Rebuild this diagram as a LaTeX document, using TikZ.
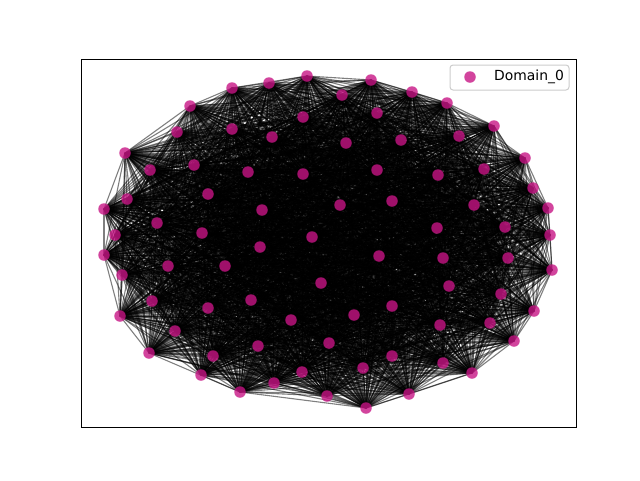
\documentclass[tikz,border=0pt]{standalone}
\usepackage{fontspec}
\setmainfont{DejaVu Sans}
\usetikzlibrary{backgrounds}
\definecolor{nodecol}{HTML}{C71585}
\begin{document}
\begin{tikzpicture}[x=1pt,y=-1pt,
  vert/.style={circle,fill=nodecol,fill opacity=0.8,draw=none,inner sep=0pt,minimum size=11.5pt},
  edge/.style={black,opacity=0.5,line width=1.1pt},
  legtext/.style={font=\fontsize{13.9}{16}\selectfont,anchor=west,inner sep=0pt}]
\useasboundingbox (0,0) rectangle (640,480);
\foreach \i/\x/\y in {1/307/76,2/371/80,3/269/83,4/232/88,5/412/92,6/342/95,7/447/103,8/190/106,9/377/113,10/303/117,
  11/232/129,12/177/132,13/459/136,14/272/137,15/494/126,16/346/143,17/401/140,18/125/153,19/194/165,20/525/158,
  21/150/170,22/484/169,23/248/172,24/303/174,25/377/170,26/438/175,27/533/188,28/208/194,29/127/199,30/104/209,
  31/392/201,32/340/205,33/474/205,34/548/208,35/262/210,36/157/223,37/505/227,38/115/235,39/202/233,40/437/228,
  41/550/235,42/312/237,43/260/247,44/104/255,45/379/256,46/443/258,47/508/258,48/168/266,49/225/266,50/552/270,
  51/122/275,52/321/283,53/449/286,54/152/301,55/251/300,56/208/308,57/392/306,58/501/294,59/534/311,60/120/316,
  61/354/315,62/291/320,63/440/325,64/490/323,65/175/331,66/329/343,67/514/341,68/258/346,69/149/353,70/213/356,
  71/392/356,72/443/363,73/363/368,74/302/372,75/472/373,76/201/375,77/274/383,78/240/392,79/327/396,80/409/394,
  81/366/408}
  \node[vert] (n\i) at (\x,\y) {};
\begin{pgfonlayer}{background}
\pgfmathsetseed{7}
\foreach \i in {1,...,80}{
  \pgfmathtruncatemacro\s{\i+1}
  \foreach \j in {\s,...,81}{
    \pgfmathsetmacro\r{rnd}
    \ifdim\r pt<0.92pt \draw[edge] (n\i.center) -- (n\j.center); \fi
  }
}
\end{pgfonlayer}
\draw[line width=0.9pt] (81,59) rectangle (576,427);
\node[draw=black!20,line width=1pt,rounded corners=3pt,fill=white,fill opacity=0.8,minimum width=119pt,minimum height=25pt,inner sep=0pt] (legend) at (509.5,77.5) {};
\node[vert] (legmark) at (470,77) {};
\node[legtext] (legname) at (494,77) {Domain\_0};
\end{tikzpicture}
\end{document}
